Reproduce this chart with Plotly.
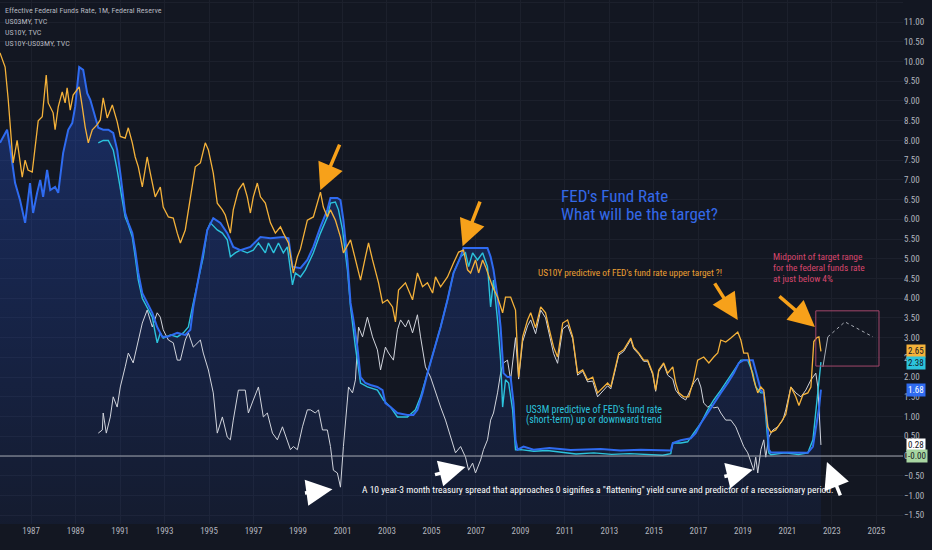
import pandas as pd
import plotly.graph_objects as go

# values, time as decimal years
us10y_t = [1985.60, 1985.83, 1985.97, 1986.19, 1986.37, 1986.50, 1986.60, 1986.73, 1986.86, 1987.05,
           1987.18, 1987.32, 1987.50, 1987.68, 1987.77, 1987.99, 1988.08, 1988.22, 1988.40, 1988.53,
           1988.62, 1988.76, 1988.89, 1989.16, 1989.30, 1989.43, 1989.57, 1989.75, 1989.97, 1990.11,
           1990.24, 1990.42, 1990.65, 1990.87, 1991.01, 1991.23, 1991.37, 1991.55, 1991.68, 1991.82,
           1992.00, 1992.22, 1992.36, 1992.58, 1992.81, 1992.94, 1993.17, 1993.39, 1993.57, 1993.71,
           1993.93, 1994.16, 1994.38, 1994.61, 1994.83, 1994.97, 1995.19, 1995.37, 1995.60, 1995.73,
           1995.96, 1996.09, 1996.32, 1996.54, 1996.72, 1996.86, 1996.99, 1997.17, 1997.31, 1997.53,
           1997.76, 1997.98, 1998.21, 1998.34, 1998.57, 1998.79, 1998.97, 1999.11, 1999.42, 1999.69,
           2000.01, 2000.14, 2000.32, 2000.46, 2000.68, 2000.91, 2001.04, 2001.36, 2001.58, 2001.81,
           2002.03, 2002.17, 2002.35, 2002.62, 2002.80, 2003.02, 2003.25, 2003.38, 2003.52, 2003.83,
           2004.15, 2004.37, 2004.60, 2004.82, 2005.05, 2005.18, 2005.41, 2005.72, 2005.99, 2006.22,
           2006.44, 2006.62, 2006.76, 2006.98, 2007.12, 2007.30, 2007.43, 2007.75, 2007.97, 2008.20,
           2008.33, 2008.56, 2008.78, 2008.92, 2009.10, 2009.32, 2009.46, 2009.68, 2009.91, 2010.13,
           2010.27, 2010.49, 2010.67, 2010.90, 2011.12, 2011.35, 2011.57, 2011.80, 2012.02, 2012.25,
           2012.47, 2012.70, 2012.92, 2013.06, 2013.28, 2013.42, 2013.64, 2013.96, 2014.09, 2014.32,
           2014.54, 2014.72, 2014.95, 2015.08, 2015.22, 2015.44, 2015.62, 2015.85, 2015.98, 2016.12,
           2016.34, 2016.57, 2016.79, 2016.97, 2017.24, 2017.47, 2017.69, 2017.87, 2018.01, 2018.23,
           2018.46, 2018.77, 2018.91, 2019.04, 2019.22, 2019.36, 2019.49, 2019.67, 2019.81, 2019.94,
           2020.12, 2020.26, 2020.48, 2020.71, 2020.93, 2021.16, 2021.38, 2021.52, 2021.70, 2021.92,
           2022.06, 2022.19, 2022.33, 2022.42, 2022.51]
us10y_v = [10.22, 9.86, 9.03, 7.43, 8.00, 7.50, 7.07, 7.50, 7.25, 7.20,
           7.76, 8.50, 8.60, 9.66, 8.95, 8.70, 8.27, 8.85, 9.23, 8.95,
           9.33, 8.77, 9.15, 9.36, 8.85, 8.34, 7.94, 8.27, 8.40, 8.52,
           9.08, 8.57, 8.90, 8.47, 8.10, 8.06, 8.32, 7.94, 7.58, 7.33,
           6.82, 7.58, 7.17, 6.57, 6.82, 6.31, 6.06, 6.03, 5.65, 5.40,
           5.73, 6.57, 7.33, 7.43, 7.94, 7.76, 7.17, 6.41, 6.24, 6.11,
           5.65, 6.24, 6.74, 6.92, 6.57, 6.16, 6.57, 6.92, 6.57, 6.41,
           5.91, 5.65, 5.81, 5.65, 5.40, 4.64, 5.05, 5.25, 5.98, 6.06,
           6.69, 6.31, 6.06, 6.24, 5.98, 5.55, 5.15, 5.48, 4.97, 4.46,
           5.05, 5.40, 4.97, 4.39, 3.88, 3.96, 3.78, 3.40, 4.21, 4.39,
           3.96, 4.64, 4.29, 4.39, 4.13, 4.54, 4.29, 4.54, 4.89, 5.17,
           5.22, 4.72, 4.64, 4.97, 4.64, 4.97, 4.80, 4.29, 4.03, 3.63,
           4.03, 4.03, 3.70, 2.00, 3.02, 3.45, 3.63, 3.25, 3.78, 3.63,
           3.27, 2.76, 2.51, 3.37, 3.45, 3.02, 2.10, 2.18, 1.93, 2.00,
           1.60, 1.72, 1.85, 1.75, 2.26, 2.61, 2.69, 2.99, 2.76, 2.61,
           2.43, 2.43, 2.10, 1.67, 2.18, 2.36, 2.10, 2.26, 1.85, 1.60,
           1.50, 1.50, 1.93, 2.43, 2.51, 2.36, 2.51, 2.61, 2.94, 2.89,
           2.99, 3.14, 2.94, 2.61, 2.61, 2.26, 1.93, 1.60, 1.75, 1.67,
           0.74, 0.60, 0.66, 0.85, 1.05, 1.75, 1.50, 1.28, 1.55, 1.60,
           1.75, 2.90, 3.00, 3.02, 2.65]

effr_t = [1985.60, 1985.92, 1986.05, 1986.28, 1986.50, 1986.73, 1986.95, 1987.09, 1987.27, 1987.41,
          1987.54, 1987.72, 1987.86, 1988.08, 1988.22, 1988.44, 1988.67, 1988.85, 1988.98, 1989.16,
          1989.34, 1989.52, 1989.66, 1989.88, 1990.02, 1990.24, 1990.47, 1990.69, 1990.87, 1991.01,
          1991.23, 1991.37, 1991.55, 1991.68, 1991.82, 1992.00, 1992.22, 1992.45, 1992.67, 1992.90,
          1993.12, 1993.57, 1993.93, 1994.16, 1994.29, 1994.52, 1994.74, 1994.92, 1995.19, 1995.51,
          1995.82, 1996.09, 1996.41, 1996.86, 1997.31, 1997.76, 1998.34, 1998.57, 1998.75, 1999.11,
          1999.42, 1999.69, 2000.01, 2000.32, 2000.46, 2000.77, 2000.91, 2001.04, 2001.22, 2001.36,
          2001.49, 2001.67, 2001.81, 2002.03, 2002.26, 2002.57, 2002.80, 2002.93, 2003.16, 2003.47,
          2003.92, 2004.19, 2004.37, 2004.60, 2004.82, 2005.09, 2005.41, 2005.72, 2005.99, 2006.31,
          2006.44, 2007.52, 2007.66, 2007.79, 2007.97, 2008.11, 2008.20, 2008.24, 2008.42, 2008.56,
          2008.69, 2008.78, 2008.87, 2009.14, 2009.59, 2010.30, 2011.26, 2012.61, 2013.50, 2014.41,
          2015.76, 2015.85, 2016.21, 2016.66, 2016.88, 2017.11, 2017.42, 2017.69, 2018.01, 2018.32,
          2018.59, 2018.82, 2019.04, 2019.45, 2019.58, 2019.81, 2019.94, 2020.12, 2020.17, 2020.26,
          2021.00, 2021.92, 2022.15, 2022.28, 2022.42, 2022.51]
effr_v = [7.94, 8.27, 7.84, 6.92, 6.49, 5.91, 6.92, 6.16, 6.67, 7.00,
          6.57, 7.25, 6.74, 6.82, 6.67, 7.68, 8.27, 8.44, 8.85, 9.86,
          9.79, 9.20, 9.03, 8.60, 8.32, 8.27, 8.27, 8.19, 7.76, 7.17,
          6.16, 5.91, 5.65, 5.22, 4.64, 4.13, 3.88, 3.63, 3.27, 3.02,
          3.02, 3.12, 3.07, 3.20, 3.78, 4.46, 5.15, 5.73, 6.03, 5.91,
          5.65, 5.30, 5.22, 5.30, 5.55, 5.52, 5.55, 5.52, 4.80, 4.76,
          4.97, 5.30, 5.81, 6.24, 6.54, 6.54, 6.49, 5.98, 4.97, 3.88,
          3.45, 2.76, 2.00, 1.85, 1.80, 1.75, 1.67, 1.34, 1.24, 1.09,
          1.04, 1.04, 1.17, 1.60, 2.10, 2.61, 3.27, 3.96, 4.64, 5.05,
          5.27, 5.27, 5.05, 4.72, 4.03, 3.27, 2.61, 2.10, 2.00, 2.00,
          1.34, 0.41, 0.16, 0.24, 0.16, 0.20, 0.15, 0.18, 0.14, 0.16,
          0.14, 0.33, 0.40, 0.45, 0.58, 0.83, 1.09, 1.34, 1.60, 1.85,
          2.10, 2.36, 2.43, 2.43, 2.18, 1.67, 1.60, 0.74, 0.16, 0.09,
          0.09, 0.08, 0.24, 0.74, 1.20, 1.68]

us03m_t = [1990.02, 1990.24, 1990.47, 1990.69, 1990.87, 1991.01, 1991.23, 1991.37, 1991.55, 1991.68,
           1991.82, 1992.00, 1992.22, 1992.45, 1992.58, 1992.67, 1992.81, 1992.94, 1993.26, 1993.57,
           1993.84, 1994.07, 1994.29, 1994.52, 1994.74, 1994.92, 1995.06, 1995.37, 1995.60, 1995.82,
           1995.96, 1996.18, 1996.41, 1996.72, 1996.99, 1997.22, 1997.53, 1997.67, 1997.90, 1998.12,
           1998.34, 1998.52, 1998.75, 1998.88, 1999.11, 1999.33, 1999.69, 2000.01, 2000.32, 2000.46,
           2000.68, 2000.82, 2001.00, 2001.22, 2001.36, 2001.58, 2001.81, 2002.12, 2002.57, 2002.84,
           2003.16, 2003.47, 2003.92, 2004.28, 2004.51, 2004.82, 2005.09, 2005.41, 2005.72, 2005.99,
           2006.31, 2006.53, 2006.67, 2006.85, 2007.07, 2007.30, 2007.52, 2007.66, 2007.79, 2007.97,
           2008.11, 2008.20, 2008.33, 2008.47, 2008.65, 2008.78, 2009.01, 2009.60, 2010.20, 2010.80,
           2011.50, 2012.30, 2013.10, 2013.90, 2014.70, 2015.40, 2015.76, 2015.85, 2016.21, 2016.52,
           2016.79, 2017.11, 2017.42, 2017.69, 2018.01, 2018.32, 2018.59, 2018.91, 2019.22, 2019.45,
           2019.58, 2019.81, 2019.94, 2020.12, 2020.17, 2020.26, 2020.90, 2021.50, 2021.92, 2022.15,
           2022.28, 2022.42, 2022.51]
us03m_v = [7.94, 8.00, 8.00, 7.76, 7.25, 6.82, 6.06, 5.86, 5.55, 5.05,
           4.46, 4.00, 3.78, 3.52, 3.12, 2.87, 3.12, 2.99, 3.07, 3.02,
           3.12, 3.27, 3.88, 4.46, 5.05, 5.73, 5.91, 5.73, 5.65, 5.48,
           5.05, 5.15, 5.22, 5.15, 5.22, 5.40, 5.15, 5.40, 5.15, 5.40,
           5.15, 5.30, 4.34, 4.64, 4.54, 4.72, 5.15, 5.65, 6.06, 6.41,
           6.44, 6.24, 5.73, 4.72, 3.78, 2.76, 1.85, 1.75, 1.67, 1.42,
           1.24, 0.99, 0.99, 1.17, 1.50, 2.10, 2.61, 3.27, 3.96, 4.64,
           5.05, 5.15, 4.80, 5.15, 4.97, 5.15, 4.80, 3.78, 4.46, 3.45,
           2.43, 1.24, 1.93, 1.85, 1.17, 0.16, 0.16, 0.12, 0.14, 0.10,
           0.05, 0.08, 0.04, 0.06, 0.03, 0.02, 0.06, 0.33, 0.33, 0.36,
           0.58, 0.83, 1.17, 1.42, 1.67, 1.93, 2.18, 2.43, 2.43, 2.10,
           1.75, 1.60, 1.60, 0.33, 0.08, 0.03, 0.08, 0.04, 0.08, 0.41,
           1.09, 1.93, 2.38]

spread_t = [1990.02, 1990.20, 1990.24, 1990.38, 1990.56, 1990.69, 1990.87, 1991.01, 1991.23, 1991.37,
            1991.59, 1991.82, 1992.00, 1992.22, 1992.45, 1992.67, 1992.81, 1992.94, 1993.17, 1993.39,
            1993.57, 1993.71, 1993.93, 1994.07, 1994.29, 1994.61, 1994.74, 1994.97, 1995.19, 1995.37,
            1995.60, 1995.82, 1995.96, 1996.09, 1996.32, 1996.63, 1996.77, 1996.99, 1997.22, 1997.44,
            1997.62, 1997.85, 1998.07, 1998.30, 1998.52, 1998.66, 1998.79, 1998.97, 1999.20, 1999.42,
            1999.56, 1999.78, 1999.92, 2000.10, 2000.32, 2000.46, 2000.59, 2000.77, 2000.91, 2001.04,
            2001.27, 2001.45, 2001.58, 2001.72, 2001.90, 2002.12, 2002.35, 2002.57, 2002.71, 2002.93,
            2003.07, 2003.29, 2003.47, 2003.61, 2003.83, 2003.97, 2004.15, 2004.37, 2004.51, 2004.73,
            2004.96, 2005.18, 2005.41, 2005.63, 2005.86, 2006.08, 2006.31, 2006.53, 2006.67, 2006.85,
            2006.98, 2007.21, 2007.34, 2007.52, 2007.66, 2007.79, 2007.97, 2008.11, 2008.24, 2008.42,
            2008.56, 2008.69, 2008.78, 2008.92, 2009.10, 2009.32, 2009.46, 2009.68, 2009.91, 2010.13,
            2010.27, 2010.49, 2010.67, 2010.90, 2011.12, 2011.35, 2011.57, 2011.80, 2012.02, 2012.25,
            2012.47, 2012.70, 2012.92, 2013.06, 2013.28, 2013.42, 2013.64, 2013.96, 2014.09, 2014.32,
            2014.54, 2014.72, 2014.95, 2015.08, 2015.22, 2015.44, 2015.62, 2015.85, 2015.98, 2016.21,
            2016.43, 2016.57, 2016.79, 2016.97, 2017.11, 2017.24, 2017.42, 2017.56, 2017.69, 2017.87,
            2018.01, 2018.23, 2018.46, 2018.68, 2018.91, 2019.04, 2019.22, 2019.36, 2019.49, 2019.58,
            2019.67, 2019.81, 2019.94, 2020.03, 2020.17, 2020.35, 2020.57, 2020.80, 2020.93, 2021.16,
            2021.38, 2021.61, 2021.83, 2022.06, 2022.28, 2022.37, 2022.42, 2022.51]
spread_v = [0.58, 0.66, 1.09, 0.58, 0.99, 1.50, 1.24, 1.75, 2.26, 2.61,
            2.36, 2.94, 3.37, 3.70, 3.27, 3.63, 3.52, 3.20, 2.94, 2.87,
            2.43, 2.43, 2.94, 3.12, 2.76, 2.94, 2.61, 2.18, 1.60, 0.58,
            0.99, 0.48, 0.41, 0.91, 1.67, 1.67, 1.09, 1.42, 1.75, 0.99,
            1.09, 0.58, 0.41, 0.74, 0.41, 0.16, 0.24, 0.16, 0.74, 1.17,
            1.17, 1.09, 1.17, 0.66, 0.66, 0.24, -0.36, -0.43, -0.79, 0.24,
            1.75, 1.60, 1.93, 3.27, 3.02, 3.52, 3.02, 2.69, 2.18, 2.76,
            2.61, 2.43, 3.20, 3.45, 3.27, 3.45, 3.12, 3.58, 3.02, 2.26,
            2.00, 1.60, 1.24, 0.91, 0.48, 0.08, 0.24, -0.03, -0.36, -0.18,
            -0.43, -0.10, 0.16, 0.41, 0.91, 1.09, 1.60, 2.10, 2.36, 2.43,
            1.93, 2.61, 3.00, 1.95, 2.90, 3.30, 3.45, 3.10, 3.70, 3.50,
            3.12, 2.60, 2.35, 3.22, 3.32, 2.97, 2.05, 2.15, 1.88, 1.90,
            1.50, 1.65, 1.78, 1.70, 2.20, 2.56, 2.65, 2.95, 2.72, 2.58,
            2.40, 2.40, 2.06, 1.64, 2.15, 2.33, 2.05, 1.95, 1.67, 1.50,
            1.42, 1.60, 1.85, 1.98, 1.75, 1.34, 1.24, 1.29, 1.22, 1.24,
            1.09, 0.91, 0.91, 0.74, 0.41, 0.24, 0.08, -0.18, -0.36, -0.03,
            -0.43, 0.16, 0.41, -0.03, 0.48, 0.66, 0.74, 0.91, 1.17, 1.75,
            1.60, 1.50, 1.67, 1.93, 2.10, 1.75, 1.17, 0.28]

# hand drawn path inside the target box
path_t = [2022.60, 2022.82, 2023.59, 2024.85]
path_v = [2.26, 3.02, 3.40, 3.02]

legend_lines = ["Effective Federal Funds Rate, 1M, Federal Reserve", "US03MY, TVC", "US10Y, TVC",
                "US10Y-US03MY, TVC"]

BG = "#131722"
GRID = "#1c202c"
AXIS_TXT = "#b2b5be"
YELLOW = "#f5b23a"
BLUE = "#2f6bf0"
CYAN = "#2cc3dc"
WHITE = "#d1d4dc"
FONT = "Roboto Condensed, Roboto, sans-serif"
Y_RANGE = [-1.724, 11.56]


def to_dates(years):
    return [pd.Timestamp(int(y), 1, 1) + pd.Timedelta(days=(y % 1) * 365.25) for y in years]


def d(y):
    return to_dates([y])[0]


fig = go.Figure()

# invisible floor so the area reaches the bottom of the pane
fig.add_trace(go.Scatter(x=to_dates(effr_t), y=[Y_RANGE[0]] * len(effr_t), mode="lines",
                         line=dict(width=0), hoverinfo="skip"))
fig.add_trace(go.Scatter(
    x=to_dates(effr_t), y=effr_v, mode="lines", fill="tonexty",
    fillgradient=dict(type="vertical", start=Y_RANGE[0], stop=10,
                      colorscale=[[0, "rgba(41,98,255,0.06)"], [1, "rgba(41,98,255,0.30)"]]),
    line=dict(width=0), hoverinfo="skip"))

fig.add_trace(go.Scatter(x=to_dates(spread_t), y=spread_v, mode="lines", line=dict(color=WHITE, width=1)))
fig.add_trace(go.Scatter(x=to_dates(us03m_t), y=us03m_v, mode="lines", line=dict(color=CYAN, width=1.4)))
fig.add_trace(go.Scatter(x=to_dates(effr_t), y=effr_v, mode="lines", line=dict(color=BLUE, width=2)))
fig.add_trace(go.Scatter(x=to_dates(us10y_t), y=us10y_v, mode="lines", line=dict(color=YELLOW, width=1.3)))
# first leg solid, rest dotted
fig.add_trace(go.Scatter(x=to_dates(path_t[:2]), y=path_v[:2], mode="lines",
                         line=dict(color="#a9adb6", width=1)))
fig.add_trace(go.Scatter(x=to_dates(path_t[1:]), y=path_v[1:], mode="lines",
                         line=dict(color="#a9adb6", width=1, dash="dot")))

fig.add_hline(y=0, line=dict(color="#a3a7b0", width=1))
fig.add_shape(type="rect", x0=d(2022.28), x1=d(2025.12), y0=2.28, y1=3.68,
              line=dict(color="#a3476b", width=1))

# legend text, top left
for i, t in enumerate(legend_lines):
    fig.add_annotation(xref="paper", yref="paper", x=0, y=1, xanchor="left", yanchor="middle",
                       xshift=3, yshift=-10 - 11 * i, text=t, showarrow=False,
                       font=dict(size=8, color=AXIS_TXT))

# last value tags on the price scale
tags = [(2.67, "2.65", YELLOW, "#131722"), (2.36, "2.38", CYAN, "#131722"),
        (1.68, "1.68", BLUE, "#ffffff"), (0.28, "0.28", "#ffffff", "#131722"),
        (0.0, "-0.00", "#a8d5a2", "#131722")]
for v, t, bg, fg in tags:
    fig.add_annotation(xref="paper", yref="y", x=1, y=v, xanchor="left", yanchor="middle", xshift=3,
                       text=t, showarrow=False, bgcolor=bg, borderpad=1,
                       font=dict(size=9, color=fg))

# titles and notes
notes = [
    (2010.75, 6.60, "FED's Fund Rate", "#3469e8", 17),
    (2010.75, 6.13, "What will be the target?", "#3469e8", 17),
    (2009.68, 4.66, "US10Y predictive of FED's fund rate upper target ?!", "#eda032", 9.3),
    (2009.14, 1.17, "US3M predictive of FED's fund rate", "#2cc3dc", 10),
    (2009.14, 0.91, "(short-term) up or downward trend", "#2cc3dc", 10),
    (2020.26, 5.05, "Midpoint of target range", "#d6466c", 9.4),
    (2020.26, 4.77, "for the federal funds rate", "#d6466c", 9.4),
    (2020.26, 4.51, "at just below 4%", "#d6466c", 9.4),
    (2001.80, -0.84, "A 10 year-3 month treasury spread that approaches 0 signifies a \"flattening\" "
                     "yield curve and predictor of a recessionary period.", "#ffffff", 9.5),
]
for x, y, t, c, s in notes:
    fig.add_annotation(x=d(x), y=y, xanchor="left", yanchor="middle", text=t, showarrow=False,
                       font=dict(size=s, color=c))

# arrows: tip in data units, tail offset in pixels
arrows = [
    (2000.00, 6.74, 20, -47, "#f7a11a"),
    (2006.40, 5.32, 18, -46, "#f7a11a"),
    (2018.77, 3.45, -24, -38, "#f7a11a"),
    (2022.24, 3.27, -37, -32, "#f7a11a"),
    (2000.55, -0.84, -29, 4, "#ffffff"),
    (2006.53, -0.28, -32, 8, "#ffffff"),
    (2019.45, -0.35, -30, 7, "#ffffff"),
    (2022.78, -0.15, 14, 35, "#ffffff"),
]
for x, y, ax, ay, c in arrows:
    fig.add_annotation(x=d(x), y=y, ax=ax, ay=ay, text="", showarrow=True, arrowhead=2,
                       arrowsize=1.5, arrowwidth=3.5, arrowcolor=c, standoff=0)

fig.update_layout(
    width=932, height=550, showlegend=False,
    paper_bgcolor=BG, plot_bgcolor=BG,
    margin=dict(l=0, r=29, t=0, b=26),
    font=dict(family=FONT, color=AXIS_TXT),
    xaxis=dict(range=[d(1985.60), d(2026.20)], showgrid=True, gridcolor=GRID, zeroline=False,
               tick0="1987-01-01", dtick="M24", tickformat="%Y", ticks="",
               tickfont=dict(size=9, color=AXIS_TXT), showline=False),
    yaxis=dict(range=Y_RANGE, side="right", dtick=0.5, tick0=0, tickformat=".2f", showgrid=True,
               gridcolor=GRID, zeroline=False, ticks="", tickfont=dict(size=9, color=AXIS_TXT),
               showline=False),
)

fig.write_html("out.html", config={"displayModeBar": False},
               post_script="document.body.style.margin='0';"
                           "document.body.style.background='#131722';")
